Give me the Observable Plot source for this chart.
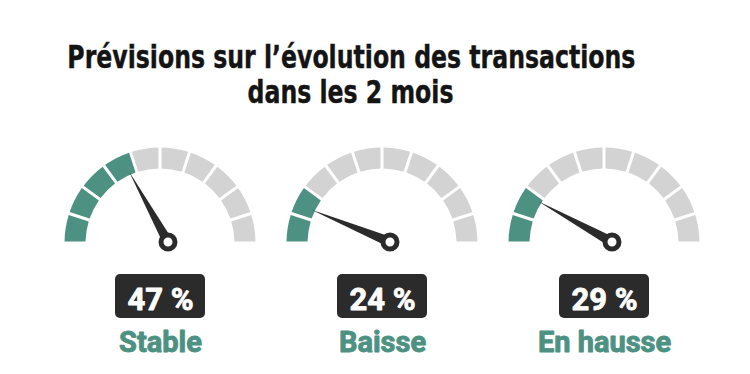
<!DOCTYPE html>
<html>
<head>
<meta charset="utf-8">
<script src="https://cdn.jsdelivr.net/npm/d3@7"></script>
<script src="https://cdn.jsdelivr.net/npm/@observablehq/plot@0.6"></script>
<style>
  html, body { margin: 0; padding: 0; background: #ffffff; }
  body { width: 750px; height: 374px; overflow: hidden; }
  #title {
    box-sizing: border-box; width: 702px; height: 115px; padding-top: 40px;
    text-align: center; font-family: "Liberation Sans Narrow", "DejaVu Sans Condensed", sans-serif;
    font-weight: bold; font-size: 32px; line-height: 35px; color: #141414;
    -webkit-text-stroke: 0.4px #141414;
  }
  #title span { display: inline-block; white-space: nowrap; transform: scaleX(0.82); transform-origin: 50% 50%; }
  #chart svg { display: block; background: #ffffff; }
</style>
</head>
<body>
<div id="title"><span>Prévisions sur l’évolution des transactions</span><br><span>dans les 2 mois</span></div>
<div id="chart"></div>
<script>
// ---- data ----
const categories = ["Stable", "Baisse", "En hausse"];
const values = [47, 24, 29];                 // percentages shown in the boxes
const valueLabels = ["47 %", "24 %", "29 %"];
const needleReadings = [37, 14, 18];         // where each needle points along its dial (0–100)
const segmentCount = 10;                     // segments per dial

// ---- style / layout ----
const TEAL = "#4d9182", GREY = "#d3d3d3", DARK = "#2b2b2b";
const H = 259, baseY = 128, rOuter = 95.5, rInner = 74.5, rTip = 78;

const rows = categories.map((c, i) => ({cat: c, value: values[i], label: valueLabels[i], needle: needleReadings[i]}));
const segments = rows.flatMap(r => d3.range(segmentCount).map(k => ({
  cat: r.cat, k, filled: k < Math.floor(r.value / (100 / segmentCount))
})));

const segAngle = d3.scaleLinear().domain([0, segmentCount]).range([-Math.PI / 2, Math.PI / 2]);
const needleAngle = d3.scaleLinear().domain([0, 100]).range([Math.PI, 0]);
const arc = d3.arc().innerRadius(rInner).outerRadius(rOuter).padRadius(85).padAngle(3 / 85);

function gauges(index, scales) {
  const x = scales.x;
  const g = d3.create("svg:g");
  g.selectAll("path.seg").data(segments).join("path")
    .attr("class", "seg")
    .attr("transform", d => `translate(${x(d.cat)},${baseY})`)
    .attr("d", d => arc({startAngle: segAngle(d.k), endAngle: segAngle(d.k + 1)}))
    .attr("fill", d => d.filled ? TEAL : GREY);
  g.selectAll("rect.box").data(rows).join("rect")
    .attr("class", "box")
    .attr("x", d => x(d.cat) - 45).attr("y", 159)
    .attr("width", 90).attr("height", 44).attr("rx", 5)
    .attr("fill", DARK);
  g.selectAll("path.needle").data(rows).join("path")
    .attr("class", "needle")
    .attr("d", d => {
      const cx = x(d.cat), a = needleAngle(d.needle);
      const tx = cx + rTip * Math.cos(a), ty = baseY - rTip * Math.sin(a);
      const px = cx + 8, py = baseY - 1;
      const len = Math.hypot(tx - px, ty - py), ux = (tx - px) / len, uy = (ty - py) / len;
      const w = 5;
      return `M${px - uy * w},${py + ux * w}L${tx},${ty}L${px + uy * w},${py - ux * w}Z`;
    })
    .attr("fill", DARK);
  g.selectAll("circle.pivot").data(rows).join("circle")
    .attr("class", "pivot")
    .attr("cx", d => x(d.cat) + 8).attr("cy", baseY - 1).attr("r", 7)
    .attr("fill", "#ffffff").attr("stroke", DARK).attr("stroke-width", 5);
  return g.node();
}

const chart = Plot.plot({
  width: 750,
  height: H,
  margin: 0,
  style: {background: "#ffffff"},
  x: {type: "point", domain: categories, range: [159, 604], padding: 0, axis: null},
  marks: [
    gauges,
    Plot.text(rows, {x: "cat", text: "label", frameAnchor: "top", lineAnchor: "middle", dy: 185,
      fill: "#ffffff", stroke: "#ffffff", strokeWidth: 0.8, fontSize: 31, fontWeight: "bold", fontFamily: "Roboto, sans-serif"}),
    Plot.text(rows, {x: "cat", text: "cat", frameAnchor: "top", lineAnchor: "middle", dy: 227,
      fill: TEAL, stroke: TEAL, strokeWidth: 0.9, fontSize: 29, fontWeight: "bold", fontFamily: "Roboto, sans-serif"})
  ]
});
document.getElementById("chart").appendChild(chart);
</script>
</body>
</html>
